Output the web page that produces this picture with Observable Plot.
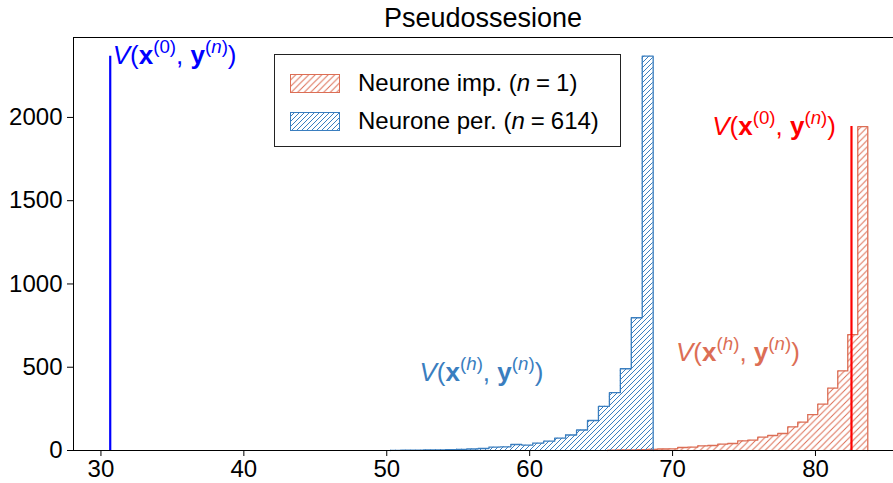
<!DOCTYPE html>
<html><head><meta charset="utf-8">
<script src="https://cdn.jsdelivr.net/npm/d3@7"></script>
<script src="https://cdn.jsdelivr.net/npm/@observablehq/plot@0.6"></script>
<style>
body{margin:0;background:#fff;}
#wrap{position:relative;width:893px;height:483px;font-family:"Liberation Sans",Arial,sans-serif;overflow:hidden;background:#fff}
.ann{position:absolute;white-space:nowrap;font-size:26px;line-height:1;}
.ann sup{font-size:0.72em;vertical-align:0.6em;line-height:0}
#title{position:absolute;left:73px;width:820px;top:5px;text-align:center;font-size:27px;line-height:1;color:#000}
#legend{position:absolute;left:274px;top:54px;width:345px;height:91px;border:1px solid #222;background:#fff;font-size:24px;line-height:1}
.row{position:absolute;left:15px;display:flex;align-items:center;white-space:nowrap}
.row svg{margin-right:18px;display:block}
.eq{margin:0 6px}
</style></head>
<body><div id="wrap"></div>
<script>
// ---- data ----
const seriesNames = ["Neurone imp.", "Neurone per."];
const seriesN = [1, 614];
const blueBinStart = 50.26, blueBinWidth = 0.766;
const blueCounts = [1,2,2,3,4,5,7,9,12,20,22,36,32,44,56,74,93,123,180,265,347,491,797,2368];
const redBinStart = 65.46, redBinWidth = 0.70;
const redCounts = [2,3,4,5,7,9,10,18,20,28,30,38,42,58,62,80,90,102,142,170,216,278,374,478,696,1945];
const x0Values = [82.52, 30.65]; // V(x^(0), y^(n)) : imp., per.
const xTicks = [30,40,50,60,70,80];
const yTicks = [0,500,1000,1500,2000];
const titleText = "Pseudossesione";

// ---- styling ----
const blueCol = "#3a7ebf", redCol = "#dc6e55";
const xDomain = [28.08, 85.46], yDomain = [0, 2480];

function stepPoints(start, width, counts){
  const pts=[{x:start,y:0}];
  counts.forEach((c,i)=>pts.push({x:start+i*width,y:c}));
  const end = start+counts.length*width;
  pts.push({x:end,y:counts[counts.length-1]});
  pts.push({x:end,y:0});
  return pts;
}
const bluePts = stepPoints(blueBinStart, blueBinWidth, blueCounts);
const redPts = stepPoints(redBinStart, redBinWidth, redCounts);
const blueMax = d3.max(blueCounts), redMax = d3.max(redCounts);

const chart = Plot.plot({
  width: 893, height: 483,
  marginLeft: 73, marginRight: 0, marginTop: 37, marginBottom: 33,
  style: {fontFamily: '"Liberation Sans", Arial, sans-serif', fontSize: "24px", color: "#000", background: "#fff"},
  x: {domain: xDomain, label: null},
  y: {domain: yDomain, label: null},
  marks: [
    Plot.areaY(redPts, {x:"x", y:"y", curve:"step-after", fill:"url(#hatchRed)"}),
    Plot.line(redPts, {x:"x", y:"y", curve:"step-after", stroke:redCol, strokeWidth:1.3}),
    Plot.areaY(bluePts, {x:"x", y:"y", curve:"step-after", fill:"url(#hatchBlue)"}),
    Plot.line(bluePts, {x:"x", y:"y", curve:"step-after", stroke:blueCol, strokeWidth:1.3}),
    Plot.ruleX([{x:x0Values[1], top:blueMax}], {x:"x", y1:0, y2:"top", stroke:"#0000ff", strokeWidth:2.2}),
    Plot.ruleX([{x:x0Values[0], top:redMax}], {x:"x", y1:0, y2:"top", stroke:"#ff0000", strokeWidth:2.2}),
    Plot.ruleY([yDomain[1]], {stroke:"#000", strokeWidth:1}),
    Plot.ruleY([0], {stroke:"#000", strokeWidth:1}),
    Plot.ruleX([xDomain[0]], {y1: yDomain[0], y2: yDomain[1], stroke:"#000", strokeWidth:1}),
    Plot.axisX({ticks: xTicks, tickSize: 6, tickPadding: 3, label: null, tickFormat: d3.format("d")}),
    Plot.axisY({ticks: yTicks, tickSize: 6, tickPadding: 5, label: null, tickFormat: d3.format("d")})
  ]
});

function addPatterns(svg){
  const defs = d3.select(svg).insert("defs", ":first-child");
  const mk = (id, col, s) => {
    const p = defs.append("pattern").attr("id", id).attr("patternUnits","userSpaceOnUse").attr("width", s).attr("height", s);
    p.append("path").attr("d", `M${-s/2},${s/2} L${s/2},${-s/2} M0,${s} L${s},0 M${s/2},${1.5*s} L${1.5*s},${s/2}`)
      .attr("stroke", col).attr("stroke-width", 1).attr("fill","none");
  };
  mk("hatchBlue", blueCol, 5);
  mk("hatchRed", redCol, 6.5);
}
addPatterns(chart);

const wrap = document.getElementById("wrap");
wrap.appendChild(chart);

const title = document.createElement("div");
title.id = "title"; title.textContent = titleText;
wrap.appendChild(title);

const xs = chart.scale("x"), ys = chart.scale("y");
const V = (a) => `<i>V</i>(<b>x</b><sup>(${a})</sup>, <b>y</b><sup>(<i>n</i>)</sup>)`;
const annotations = [
  {html: V("0"), color:"#0000ff", x: x0Values[1], y: blueMax, dx: 3, dy: -1, anchor: "left"},
  {html: V("0"), color:"#ff0000", x: x0Values[0], y: redMax, dx: -15, dy: 0, anchor: "right"},
  {html: V("<i>h</i>"), color: blueCol, x: 56.66, y: 468, dx: 0, dy: 0, anchor: "center"},
  {html: V("<i>h</i>"), color: redCol, x: 74.61, y: 589, dx: 0, dy: 0, anchor: "center"}
];
for (const a of annotations) {
  const d = document.createElement("div");
  d.className = "ann"; d.innerHTML = a.html; d.style.color = a.color;
  d.style.left = (xs.apply(a.x) + a.dx) + "px";
  d.style.top = (ys.apply(a.y) + a.dy) + "px";
  d.style.transform = a.anchor === "left" ? "translate(0,-50%)" : a.anchor === "right" ? "translate(-100%,-50%)" : "translate(-50%,-50%)";
  wrap.appendChild(d);
}

// legend
const legend = document.createElement("div");
legend.id = "legend";
const legendItems = [
  {name: seriesNames[0], n: seriesN[0], col: redCol, pat: "hatchRed", top: 16},
  {name: seriesNames[1], n: seriesN[1], col: blueCol, pat: "hatchBlue", top: 54}
];
for (const it of legendItems) {
  const r = document.createElement("div");
  r.className = "row"; r.style.top = it.top + "px";
  r.innerHTML = `<svg width="50" height="19"><rect x="0.5" y="0.5" width="49" height="18" fill="url(#${it.pat})" stroke="${it.col}" stroke-width="1"/></svg><span>${it.name} (<i>n</i><span class="eq">=</span>${it.n})</span>`;
  legend.appendChild(r);
}
wrap.appendChild(legend);
</script>
</body></html>
